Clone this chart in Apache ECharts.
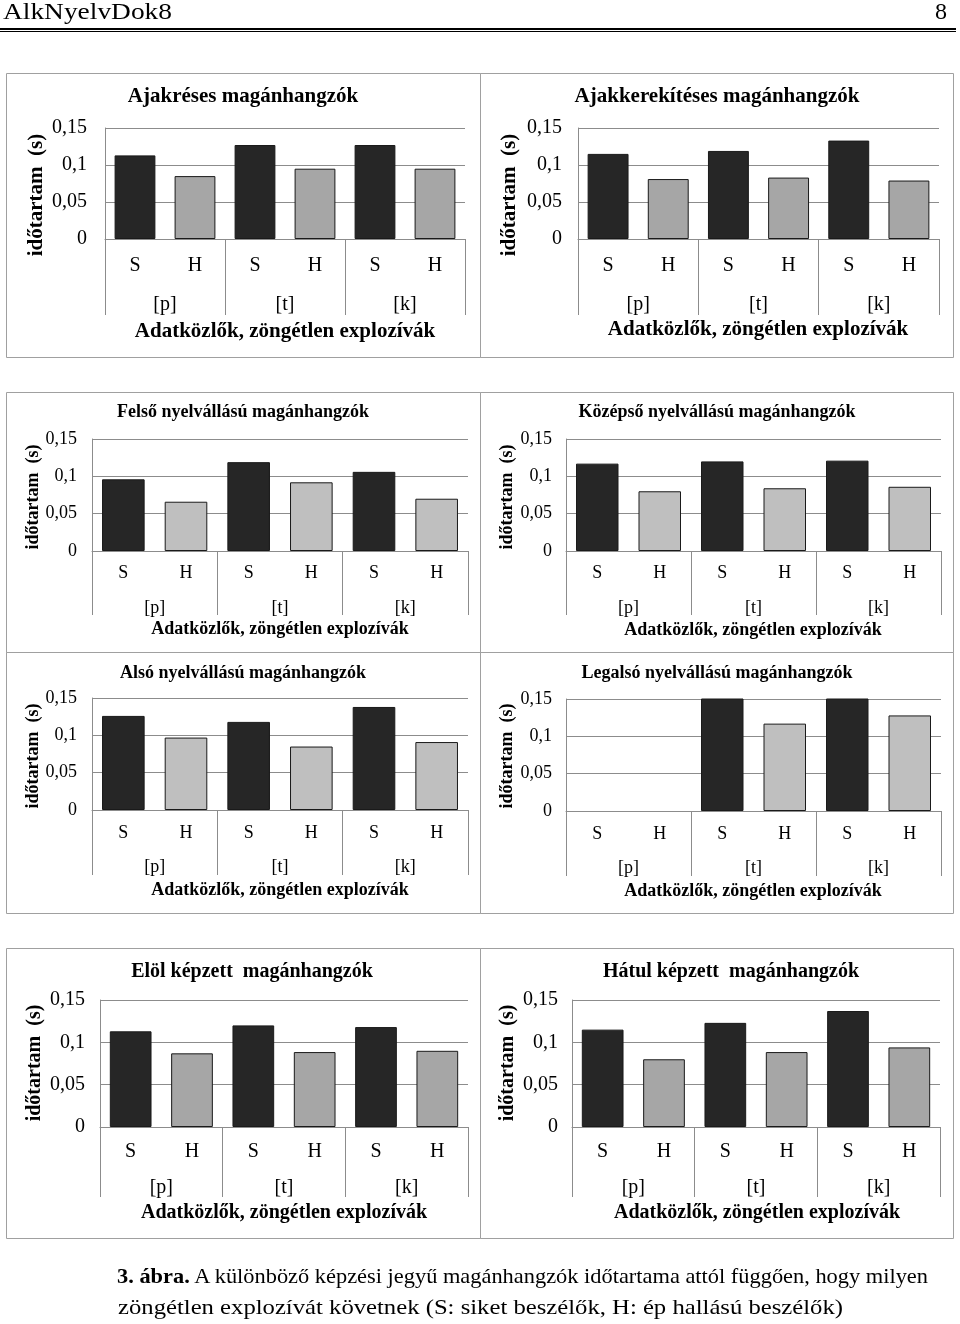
<!DOCTYPE html>
<html>
<head>
<meta charset="utf-8">
<script src="https://cdn.jsdelivr.net/npm/echarts@6/dist/echarts.min.js"></script>
<style>
  html, body { margin:0; padding:0; background:#fff; }
  body { width:960px; height:1324px; position:relative; overflow:hidden; font-family:'Liberation Serif','Times New Roman',serif; }
  #chart { position:absolute; left:0; top:0; width:960px; height:1324px; }
  .txt { position:absolute; white-space:nowrap; transform-origin:0 0; color:#000; }
  .rule { position:absolute; left:0; width:956px; background:#000; }
</style>
</head>
<body>
<div id="chart"></div>
<div class="txt" id="hdrL" style="left:3px;top:-1px;font-size:24px;line-height:24px;">AlkNyelvDok8</div>
<div class="txt" id="hdrR" style="left:935px;top:-1px;font-size:24px;line-height:24px;">8</div>
<div class="rule" style="top:28px;height:2px;"></div>
<div class="rule" style="top:31px;height:1px;"></div>
<div class="txt" id="cap1" style="left:117px;top:1260px;font-size:22px;line-height:31px;"><b>3. ábra.</b> A különböző képzési jegyű magánhangzók időtartama attól függően, hogy milyen</div>
<div class="txt" id="cap2" style="left:118px;top:1291px;font-size:22px;line-height:31px;">zöngétlen explozívát követnek (S: siket beszélők, H: ép hallású beszélők)</div>
<script>
// ---- data ----
const speakers = ['S', 'H', 'S', 'H', 'S', 'H'];
const groups = ['[p]', '[t]', '[k]'];
const yTickLabels = ['0', '0,05', '0,1', '0,15'];
const yTitle = 'időtartam  (s)';
const xTitle = 'Adatközlők, zöngétlen explozívák';

const titles = [
  'Ajakréses magánhangzók',
  'Ajakkerekítéses magánhangzók',
  'Felső nyelvállású magánhangzók',
  'Középső nyelvállású magánhangzók',
  'Alsó nyelvállású magánhangzók',
  'Legalsó nyelvállású magánhangzók',
  'Elöl képzett  magánhangzók',
  'Hátul képzett  magánhangzók'
];

const ajakresesVals      = [0.113, 0.085, 0.127, 0.095, 0.127, 0.095];
const ajakkerekitesesVals = [0.115, 0.081, 0.119, 0.083, 0.133, 0.079];
const felsoVals          = [0.096, 0.066, 0.119, 0.092, 0.106, 0.070];
const kozepsoVals        = [0.117, 0.080, 0.120, 0.084, 0.121, 0.086];
const alsoVals           = [0.126, 0.097, 0.118, 0.085, 0.138, 0.091];
const legalsoVals        = [null, null, 0.16, 0.117, 0.16, 0.128];
const elolVals           = [0.113, 0.087, 0.120, 0.0885, 0.118, 0.090];
const hatulVals          = [0.115, 0.080, 0.123, 0.0885, 0.137, 0.094];

const panelValues = [ajakresesVals, ajakkerekitesesVals, felsoVals, kozepsoVals,
                     alsoVals, legalsoVals, elolVals, hatulVals];

// ---- layout (positions/styles only) ----
const layouts = [
  {g:[105,128,360,111], fs:20, tfs:21, sm:17, gm:56, tl:76, yt:[37,195],  tt:[243,97],  at:[285,332],  box:[6.5,73.5,474,284],  h:'#a6a6a6'},
  {g:[578,128,361,111], fs:20, tfs:21, sm:17, gm:56, tl:76, yt:[510,195], tt:[717,97],  at:[758,330],  box:[480.5,73.5,473,284], h:'#a6a6a6'},
  {g:[92,439,376,112],  fs:18, tfs:18, sm:13, gm:48, tl:64, yt:[33,497],  tt:[243,412], at:[280,629],  box:[6.5,392.5,474,260], h:'#bfbfbf'},
  {g:[566,439,375,112], fs:18, tfs:18, sm:13, gm:48, tl:64, yt:[507,497], tt:[717,412], at:[753,630],  box:[480.5,392.5,473,260], h:'#bfbfbf'},
  {g:[92,698,376,112],  fs:18, tfs:18, sm:14, gm:48, tl:65, yt:[33,756],  tt:[243,673], at:[280,890],  box:[6.5,652.5,474,261], h:'#bfbfbf'},
  {g:[566,699,375,112], fs:18, tfs:18, sm:14, gm:48, tl:65, yt:[507,756], tt:[717,673], at:[753,891],  box:[480.5,652.5,473,261], h:'#bfbfbf'},
  {g:[100,1000,368,127],fs:20, tfs:20, sm:15, gm:51, tl:70, yt:[35,1063], tt:[252,972], at:[284,1213], box:[6.5,948.5,474,290], h:'#a6a6a6'},
  {g:[572,1000,368,127],fs:20, tfs:20, sm:15, gm:51, tl:70, yt:[508,1063],tt:[731,972], at:[757,1213], box:[480.5,948.5,473,290], h:'#a6a6a6'}
];

const FONT = "'Liberation Serif', 'Times New Roman', serif";
const GRID_COLOR = '#8c8c8c';
const S_COLOR = '#262626';

const grid = [], xAxis = [], yAxis = [], series = [], graphic = [];

layouts.forEach((L, i) => {
  grid.push({left:L.g[0], top:L.g[1], width:L.g[2], height:L.g[3], containLabel:false, outerBoundsMode:'none'});
  xAxis.push({
    type:'category', gridIndex:i, data:speakers, position:'bottom',
    axisLine:{show:false}, axisTick:{show:false}, splitLine:{show:false},
    axisLabel:{interval:0, margin:L.sm, fontSize:L.fs, fontFamily:FONT, color:'#000'}
  });
  xAxis.push({
    type:'category', gridIndex:i, data:groups, position:'bottom',
    axisLine:{show:true, lineStyle:{color:GRID_COLOR, width:1}},
    axisTick:{show:true, interval:0, length:L.tl, lineStyle:{color:GRID_COLOR, width:1}},
    splitLine:{show:false},
    axisLabel:{interval:0, margin:L.gm, fontSize:L.fs, fontFamily:FONT, color:'#000'}
  });
  yAxis.push({
    type:'value', gridIndex:i, min:0, max:0.15, interval:0.05,
    axisLine:{show:true, lineStyle:{color:GRID_COLOR, width:1}},
    axisTick:{show:false},
    splitLine:{show:true, lineStyle:{color:GRID_COLOR, width:1}},
    axisLabel:{margin: i % 2 === 0 ? (i < 2 ? 18 : 15) : (i < 2 ? 16 : 14),
               fontSize:L.fs, fontFamily:FONT, color:'#000',
               formatter:(v, idx) => yTickLabels[idx]}
  });
  series.push({
    type:'bar', xAxisIndex:i * 2, yAxisIndex:i, barWidth:'68%', clip:true,
    data: panelValues[i].map((v, j) => ({
      value: v,
      itemStyle: {color: speakers[j] === 'S' ? S_COLOR : L.h, borderColor:'#1a1a1a', borderWidth:1}
    })),
    animation:false
  });
  graphic.push({type:'rect', z:-1, silent:true,
    shape:{x:L.box[0], y:L.box[1], width:L.box[2], height:L.box[3]},
    style:{fill:'none', stroke:'#a0a0a0', lineWidth:1}});
  graphic.push({type:'text', x:L.tt[0], y:L.tt[1], silent:true,
    style:{text:titles[i], fontSize:L.tfs, fontWeight:'bold', fontFamily:FONT, fill:'#000',
           align:'center', verticalAlign:'middle', textAlign:'center', textVerticalAlign:'middle'}});
  graphic.push({type:'text', x:L.at[0], y:L.at[1], silent:true,
    style:{text:xTitle, fontSize:L.tfs, fontWeight:'bold', fontFamily:FONT, fill:'#000',
           align:'center', verticalAlign:'middle', textAlign:'center', textVerticalAlign:'middle'}});
  graphic.push({type:'text', x:L.yt[0], y:L.yt[1], rotation:Math.PI / 2, silent:true,
    style:{text:yTitle, fontSize:L.tfs, fontWeight:'bold', fontFamily:FONT, fill:'#000',
           align:'center', verticalAlign:'middle', textAlign:'center', textVerticalAlign:'middle'}});
});

const chart = echarts.init(document.getElementById('chart'), null, {renderer:'canvas'});
chart.setOption({
  animation:false,
  backgroundColor:'transparent',
  grid, xAxis, yAxis, series, graphic
});

// fit caption/header widths to the reference
function fit(id, target) {
  const el = document.getElementById(id);
  const w = el.getBoundingClientRect().width;
  if (w > 0) el.style.transform = 'scaleX(' + (target / w) + ')';
}
fit('hdrL', 169);
fit('cap1', 811);
fit('cap2', 725);
</script>
</body>
</html>
